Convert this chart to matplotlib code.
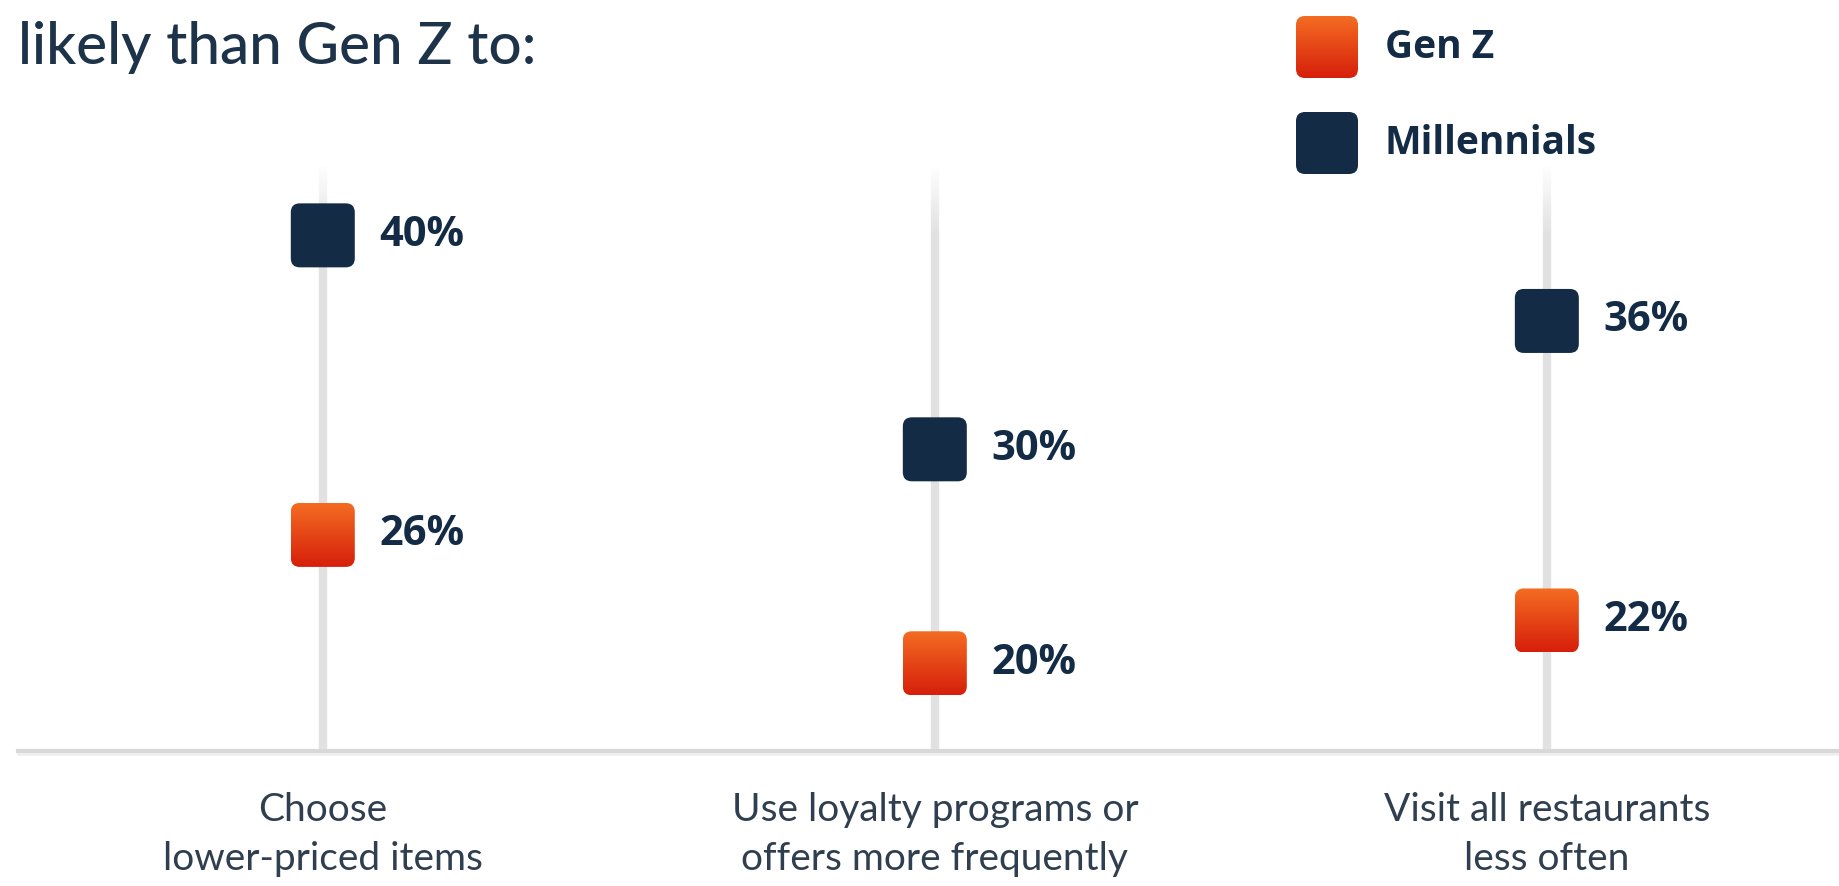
import matplotlib
matplotlib.use("Agg")
import matplotlib.pyplot as plt
import numpy as np
from matplotlib.patches import FancyBboxPatch
from matplotlib.transforms import ScaledTranslation
from matplotlib.colors import LinearSegmentedColormap, to_rgba
from matplotlib.collections import LineCollection

# data
categories = ["Choose\nlower-priced items",
              "Use loyalty programs or\noffers more frequently",
              "Visit all restaurants\nless often"]
gen_z = [26, 20, 22]
millennials = [40, 30, 36]
series = ["Gen Z", "Millennials"]

NAVY = "#132b45"
TEXT = "#1d3349"
genz_cmap = LinearSegmentedColormap.from_list("genz", ["#f46c22", "#d61f0b"])

plt.rcParams['font.family'] = ['Lato', 'DejaVu Sans']
WIDE = ['Open Sans', 'DejaVu Sans']

W, H = 1840, 886
fig = plt.figure(figsize=(W / 100, H / 100), dpi=100)
base_px = 751
ax = fig.add_axes([18 / W, 1 - base_px / H, 1 - 18 / W, base_px / H])
ax.axis('off')
XLIM = (-0.498, 2.479)
YLIM = (15.9, 51.0)


def rounded_square(center, kind, size=0.64, r=0.09):
    # size in inches, centred on a translation transform
    trans = fig.dpi_scale_trans + center
    box = FancyBboxPatch((-size / 2, -size / 2), size, size,
                         boxstyle=f"round,pad=0,rounding_size={r}",
                         transform=trans, facecolor=NAVY,
                         edgecolor='none', zorder=4)
    if kind == "Millennials":
        ax.add_patch(box)
    else:
        grad = np.linspace(0, 1, 100).reshape(-1, 1)
        im = ax.imshow(grad, cmap=genz_cmap, origin='upper', aspect='auto',
                       extent=(-size / 2, size / 2, -size / 2, size / 2),
                       transform=trans, zorder=4, interpolation='bilinear')
        im.set_clip_path(box)


x = np.arange(len(categories))

# faded vertical guide lines
xtrans = ax.get_xaxis_transform()
top_frac = (base_px - 165) / base_px
fade_frac = (base_px - 235) / base_px
for xi in x:
    ys = np.linspace(top_frac, fade_frac, 30)
    segs = [[(xi, ys[k]), (xi, ys[k + 1])] for k in range(len(ys) - 1)]
    cols = [to_rgba("#e1e1e1", a) for a in np.linspace(0.0, 1.0, len(segs))]
    ax.add_collection(LineCollection(segs, colors=cols, linewidths=6,
                                     transform=xtrans, zorder=1))
    ax.plot([xi, xi], [fade_frac, 0], color="#e1e1e1", lw=6,
            transform=xtrans, zorder=1, solid_capstyle='butt')

# baseline
yax = ax.get_yaxis_transform()
ax.plot([0, 1], [YLIM[0], YLIM[0]], color="#d8d8d8", lw=3, clip_on=False,
        zorder=2, transform=yax)
ax.plot([0, 1], [YLIM[0], YLIM[0]], color="#efefef", lw=2, clip_on=False, zorder=1,
        transform=yax + ScaledTranslation(0, -3 / 100, fig.dpi_scale_trans))

for name, vals in zip(series, [gen_z, millennials]):
    for xi, v in zip(x, vals):
        rounded_square(ScaledTranslation(xi, v, ax.transData), name)
        ax.annotate(f"{v}%", (xi, v), xytext=(40.5, 0), textcoords='offset points',
                    ha='left', va='center', fontsize=30, fontweight='bold',
                    family=WIDE, color=NAVY, zorder=5)

for xi, lab in zip(x, categories):
    ax.annotate(lab, (xi, 0), xycoords=('data', 'axes fraction'),
                xytext=(0, -60), textcoords='offset points',
                ha='center', va='center', fontsize=28, fontweight='normal',
                color="#2f3f50", linespacing=1.45, annotation_clip=False)

# legend
for name, py in zip(series, [47, 143]):
    c = ScaledTranslation(1327 / W, 1 - py / H, fig.transFigure)
    rounded_square(c, name, size=0.62)
    fig.text(1385 / W, 1 - py / H, name, ha='left', va='center', fontsize=28,
             fontweight='bold', family=WIDE, color=NAVY)

fig.text(18 / W, 1 - 64 / H, "likely than Gen Z to:", ha='left', va='baseline',
         fontsize=42, fontweight='medium', color=TEXT)

ax.set_xlim(*XLIM)
ax.set_ylim(*YLIM)

fig.savefig("out.png", dpi=100, facecolor='white')
